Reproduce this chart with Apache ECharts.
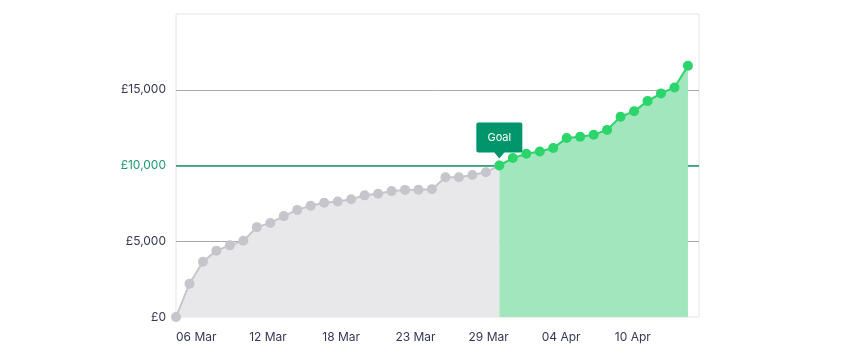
<!DOCTYPE html>
<html>
<head>
<meta charset="utf-8">
<script src="https://cdn.jsdelivr.net/npm/echarts@6/dist/echarts.min.js"></script>
<style>
html,body{margin:0;padding:0;background:#fff;}
#chart{width:850px;height:357px;}
</style>
</head>
<body>
<div id="chart"></div>
<script>
// ---- data ----
var tickLabels = ['06 Mar', '12 Mar', '18 Mar', '23 Mar', '29 Mar', '04 Apr', '10 Apr'];
var totals = [0, 2200, 3650, 4380, 4730, 5030, 5930, 6210, 6660, 7070,
              7340, 7545, 7620, 7775, 8030, 8140, 8310, 8390, 8395, 8440,
              9230, 9230, 9370, 9560, 10000, 10490, 10770, 10920, 11150, 11810,
              11900, 12030, 12350, 13220, 13575, 14250, 14760, 15150, 16580];
var goal = 10000;
var goalLabel = 'Goal';
var yTicks = [0, 5000, 10000, 15000, 20000];

// ---- build ----
var goalIndex = totals.findIndex(function (v) { return v >= goal; });
var before = [], after = [];
totals.forEach(function (v, i) {
  if (i <= goalIndex) before.push([i, v]);
  if (i >= goalIndex) after.push([i, v]);
});
var lastIndex = totals.length - 1;
var step = lastIndex / tickLabels.length;

var navy = '#363657';
var goalGreen = '#1c9a6c';

var chart = echarts.init(document.getElementById('chart'), null, {renderer: 'canvas'});
chart.setOption({
  animation: false,
  textStyle: {fontFamily: 'Inter'},
  grid: {left: 176, right: 151, top: 14, bottom: 40, show: true, borderColor: '#e4e4e4', borderWidth: 1},
  xAxis: {
    type: 'value',
    min: 0,
    max: lastIndex + 0.82,
    interval: step,
    axisLine: {show: false},
    axisTick: {show: false},
    splitLine: {show: false},
    axisLabel: {
      align: 'left',
      margin: 14,
      fontSize: 12,
      color: navy,
      fontFamily: 'Inter',
      formatter: function (v) {
        var k = Math.round(v / step);
        if (Math.abs(v - k * step) < 1e-6 && k < tickLabels.length) return tickLabels[k];
        return '';
      }
    }
  },
  yAxis: {
    type: 'value',
    min: yTicks[0],
    max: yTicks[yTicks.length - 1],
    interval: yTicks[1] - yTicks[0],
    axisLine: {show: false},
    axisTick: {show: false},
    splitLine: {show: true, showMinLine: false, showMaxLine: false, lineStyle: {color: '#aaaaaa', width: 1}},
    axisLabel: {
      showMaxLabel: false,
      margin: 10,
      fontSize: 12,
      fontFamily: 'Inter',
      color: function (v) { return Number(v) === goal ? goalGreen : navy; },
      formatter: function (v) { return '£' + v.toLocaleString('en-GB'); }
    }
  },
  series: [
    {
      type: 'line',
      data: before,
      symbol: 'circle',
      symbolSize: 10,
      showAllSymbol: true,
      itemStyle: {color: '#c6c5cc'},
      lineStyle: {color: '#c6c5cc', width: 2},
      areaStyle: {color: '#e8e8eb', opacity: 1},
      z: 2
    },
    {
      type: 'line',
      data: after,
      symbol: 'circle',
      symbolSize: 10,
      showAllSymbol: true,
      itemStyle: {color: '#2bd56b'},
      lineStyle: {color: '#2bd56b', width: 2},
      areaStyle: {color: '#a2e6bd', opacity: 1},
      z: 3,
      markLine: {
        silent: true,
        symbol: 'none',
        label: {show: false},
        lineStyle: {color: goalGreen, width: 1.6, type: 'solid'},
        data: [{yAxis: goal}],
        z: 1
      },
      markPoint: {
        silent: true,
        symbol: 'path://M0,2 Q0,0 2,0 L44,0 Q46,0 46,2 L46,28 Q46,30 44,30 L28,30 L23,36 L18,30 L2,30 Q0,30 0,28 Z',
        symbolSize: [46, 36],
        symbolKeepAspect: false,
        symbolOffset: [0, -25],
        itemStyle: {color: '#00956a'},
        label: {show: true, formatter: goalLabel, color: '#ffffff', fontSize: 11, fontFamily: 'Inter', offset: [0, -3]},
        data: [{coord: [goalIndex, goal]}],
        z: 10
      }
    }
  ]
});
</script>
</body>
</html>
